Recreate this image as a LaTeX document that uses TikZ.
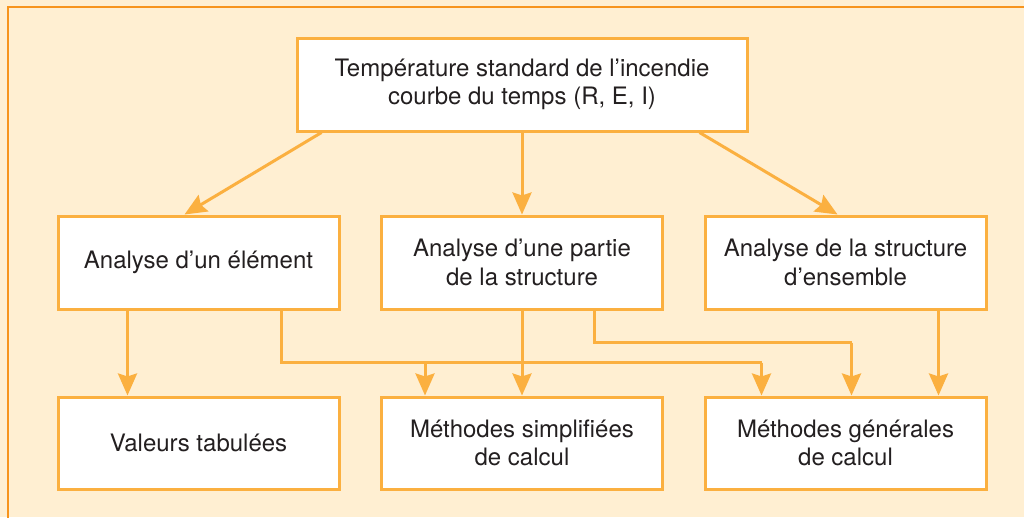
\documentclass[tikz,border=0pt]{standalone}
\usepackage{fontspec}
\setmainfont{TeX Gyre Heros}
\usetikzlibrary{arrows.meta,calc}
\definecolor{bgc}{HTML}{FFEFD2}
\definecolor{linec}{HTML}{FBB040}
\definecolor{framec}{HTML}{F7941D}
\definecolor{txtc}{HTML}{231F20}
\begin{document}
\begin{tikzpicture}[x=1pt,y=-1pt,
  box/.style={draw=linec,line width=3pt,fill=white,inner sep=0pt,minimum height=93pt,
    text=txtc,align=center,font=\fontsize{24}{28.5}\selectfont},
  smallbox/.style={box,minimum width=281pt},
  arr/.style={draw=linec,line width=3pt,-{Stealth[length=22pt,width=19pt,inset=3pt]}},
  ln/.style={draw=linec,line width=3pt}]
\useasboundingbox (0,0) rectangle (1024,517);
\fill[bgc] (0,0) rectangle (1024,517);
\draw[framec,line width=2.5pt] (8,530) -- (8,7) -- (1040,7);
\node[box,minimum width=450pt] (top) at (522,84.5) {Température standard de l’incendie\\courbe du temps (R, E, I)};
\node[smallbox] (A) at (198.5,262.5) {Analyse d’un élément};
\node[smallbox] (B) at (522,262.5) {Analyse d’une partie\\de la structure};
\node[smallbox] (C) at (845.5,262.5) {Analyse de la structure\\d’ensemble};
\node[smallbox,minimum height=92pt] (D) at (198.5,443) {Valeurs tabulées};
\node[smallbox,minimum height=92pt] (E) at (522,443) {Méthodes simplifiées\\de calcul};
\node[smallbox,minimum height=92pt] (F) at (845.5,443) {Méthodes générales\\de calcul};
% top connectors
\draw[arr] ($(top.south west)+(26,0)$) -- ($(A.north west)+(128,0)$);
\draw[arr] (top.south) -- (B.north);
\draw[arr] ($(top.south east)+(-49,0)$) -- ($(C.north west)+(134,0)$);
% lower connectors
\draw[arr] ($(A.south west)+(71,0)$) -- ($(D.north west)+(71,0)$);
\coordinate (a1) at ($(A.south west)+(225,0)$);
\coordinate (a2) at ($(a1)+(0,52)$);
\coordinate (e1) at ($(E.north west)+(45,0)$);
\coordinate (f1) at ($(F.north west)+(58,0)$);
\draw[ln] (a1) -- (a2) -- (a2 -| f1);
\draw[arr] (a2 -| f1) -- (f1);
\draw[arr] (a2 -| e1) -- (e1);
\draw[arr] (B.south) -- (E.north);
\coordinate (b1) at ($(B.south west)+(214,0)$);
\coordinate (b2) at ($(b1)+(0,32)$);
\coordinate (f2) at ($(F.north west)+(148,0)$);
\draw[ln] (b1) -- (b2) -- (b2 -| f2);
\draw[arr] (b2 -| f2) -- (f2);
\draw[arr] ($(C.south west)+(235,0)$) -- ($(F.north west)+(235,0)$);
\end{tikzpicture}
\end{document}
